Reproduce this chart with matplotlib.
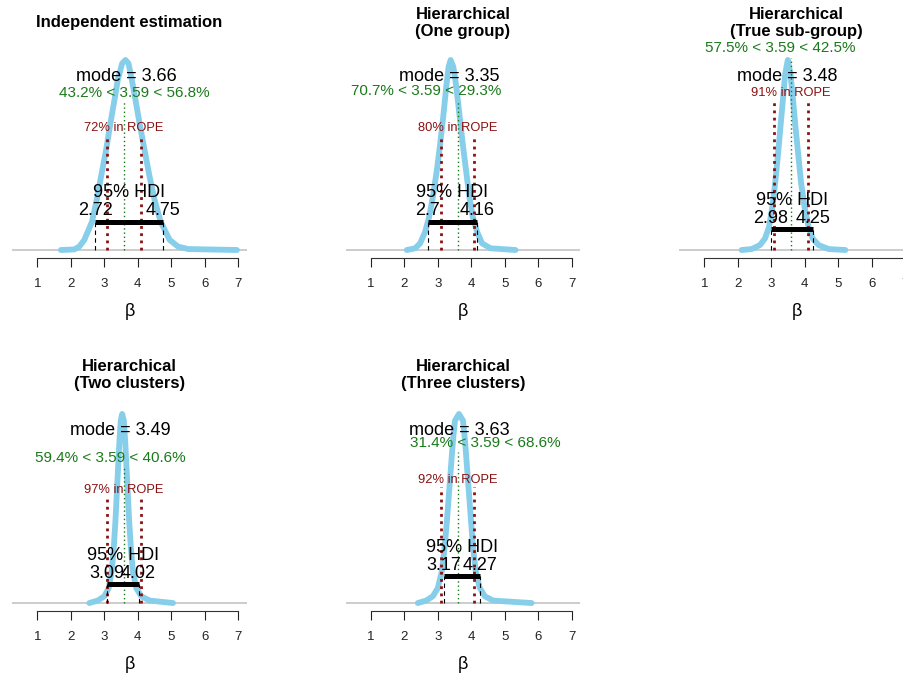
import matplotlib
matplotlib.use("Agg")
import matplotlib.pyplot as plt

plt.rcParams['font.family'] = ['Liberation Sans', 'DejaVu Sans']

# ---- data ----
titles = ["Independent estimation",
          "Hierarchical\n(One group)",
          "Hierarchical\n(True sub-group)",
          "Hierarchical\n(Two clusters)",
          "Hierarchical\n(Three clusters)"]
modes = [3.66, 3.35, 3.48, 3.49, 3.63]
comp_val = 3.59
pct_below = [43.2, 70.7, 57.5, 59.4, 31.4]
pct_above = [56.8, 29.3, 42.5, 40.6, 68.6]
pct_in_rope = [72, 80, 91, 97, 92]
rope = [3.09, 4.09]
hdi_low = [2.72, 2.7, 2.98, 3.09, 3.17]
hdi_high = [4.75, 4.16, 4.25, 4.02, 4.27]

# posterior density curves (beta, density scaled to peak = 1)
beta_indep = [1.70, 2.10, 2.25, 2.40, 2.63, 2.77, 2.90, 3.05, 3.18, 3.30, 3.40, 3.53,
              3.63, 3.72, 3.82, 3.93, 4.05, 4.20, 4.35, 4.50, 4.68, 4.95, 5.20, 5.50, 6.96]
dens_indep = [0, .003, .018, .053, .149, .263, .386, .526, .667, .789, .895, .982,
              1.0, .982, .895, .789, .667, .526, .386, .263, .149, .053, .018, .005, 0]
beta_one = [2.07, 2.32, 2.47, 2.62, 2.74, 2.85, 2.97, 3.07, 3.17, 3.25, 3.32,
            3.38, 3.46, 3.55, 3.64, 3.74, 3.84, 3.94, 4.04, 4.17, 4.32, 4.57, 5.32]
dens_one = [0, .009, .035, .096, .175, .28, .421, .561, .719, .86, .965,
            1.0, .965, .86, .719, .561, .421, .28, .175, .096, .035, .009, 0]
beta_true = [2.11, 2.41, 2.66, 2.81, 2.93, 3.03, 3.11, 3.19, 3.27, 3.35, 3.41,
             3.49, 3.57, 3.64, 3.72, 3.81, 3.89, 3.99, 4.11, 4.23, 4.41, 4.71, 5.21]
dens_true = [0, .005, .026, .061, .122, .227, .349, .489, .646, .803, .925,
             1.0, .925, .803, .646, .489, .349, .227, .122, .061, .026, .005, 0]
beta_two = [2.55, 2.80, 3.00, 3.13, 3.22, 3.28, 3.33, 3.37, 3.41, 3.45, 3.49,
            3.53, 3.58, 3.62, 3.66, 3.70, 3.74, 3.79, 3.85, 3.95, 4.10, 4.35, 5.05]
dens_two = [0, .013, .036, .08, .169, .293, .434, .576, .718, .859, .965,
            1.0, .965, .859, .718, .576, .434, .293, .169, .08, .036, .013, 0]
beta_three = [2.40, 2.65, 2.85, 3.00, 3.12, 3.20, 3.27, 3.33, 3.39, 3.45, 3.51,
              3.63, 3.75, 3.81, 3.87, 3.93, 3.99, 4.05, 4.13, 4.25, 4.40, 4.65, 5.80]
dens_three = [0, .013, .036, .08, .169, .293, .434, .576, .718, .859, .965,
              1.0, .965, .859, .718, .576, .434, .293, .169, .08, .036, .013, 0]

curves_x = [beta_indep, beta_one, beta_true, beta_two, beta_three]
curves_y = [dens_indep, dens_one, dens_true, dens_two, dens_three]

# ---- layout (pixels) ----
W, H = 904, 677
col_left = [12, 345.5, 679]
row_top = [52.4, 406.4]
row_h = [205.2, 204.2]
ax_w = 235
title_y = [23, 375]
cells = [(0, 0), (0, 1), (0, 2), (1, 0), (1, 1)]

mode_ht = 0.89
cv_ht = [0.805, 0.816, 1.04, 0.746, 0.825]
rope_ht = [0.626, 0.626, 0.81, 0.58, 0.635]
hdi_ht = [0.149, 0.149, 0.108, 0.10, 0.143]

sky = '#87ceeb'
cv_col = '#1a7a1a'
rope_col = '#8b1010'

fig = plt.figure(figsize=(W / 100, H / 100), dpi=100)
to_shift = []

for i, (r, c) in enumerate(cells):
    ax = fig.add_axes([col_left[c] / W, 1 - (row_top[r] + row_h[r]) / H,
                       ax_w / W, row_h[r] / H])
    ax.set_xlim(0.24, 7.26)
    ax.set_ylim(-0.04, 1.04)
    ax.patch.set_visible(False)

    ax.axhline(0, color='#bebebe', lw=1.1, zorder=1)
    ax.plot(curves_x[i], curves_y[i], color=sky, lw=4.2,
            solid_joinstyle='round', solid_capstyle='round', zorder=2)

    # comparison value
    ax.plot([comp_val, comp_val], [0, 0.97 * cv_ht[i]], color=cv_col, lw=1,
            ls=(0, (1, 2)), zorder=3)
    t = ax.text(comp_val, cv_ht[i],
                f"{pct_below[i]}% < {comp_val} < {pct_above[i]}%",
                color=cv_col, fontsize=11, ha='left', va='baseline', zorder=5)
    to_shift.append((ax, t, pct_below[i] / 100))

    # ROPE
    for rv in rope:
        ax.plot([rv, rv], [0, 0.97 * rope_ht[i]], color=rope_col, lw=2.0,
                ls=(0, (1.0, 1.6)), zorder=3)
    ax.text(sum(rope) / 2, rope_ht[i], f"{pct_in_rope[i]}% in ROPE",
            color=rope_col, fontsize=9.3, ha='center', va='baseline', zorder=5)

    # mode
    ax.text(modes[i], mode_ht, f"mode = {modes[i]}", fontsize=13,
            ha='center', va='baseline', zorder=5)

    # HDI
    lo, hi, bh = hdi_low[i], hdi_high[i], hdi_ht[i]
    ax.plot([lo, hi], [bh, bh], color='black', lw=3.6,
            solid_capstyle='butt', zorder=4)
    for v in (lo, hi):
        ax.plot([v, v], [0, bh], color='black', lw=0.8, ls=(0, (4, 3)), zorder=3)
        ax.annotate(f"{v:g}", xy=(v, bh), xytext=(0, 4.5),
                    textcoords='offset points', ha='center', va='baseline',
                    fontsize=13, zorder=5)
    ax.annotate("95% HDI", xy=((lo + hi) / 2, bh), xytext=(0, 17.6),
                textcoords='offset points', ha='center', va='baseline',
                fontsize=13, zorder=5)

    # x axis only
    for s in ['left', 'right', 'top']:
        ax.spines[s].set_visible(False)
    ax.spines['bottom'].set_bounds(1, 7)
    ax.spines['bottom'].set_color('#333333')
    ax.spines['bottom'].set_linewidth(0.8)
    ax.set_xticks(range(1, 8))
    ax.set_yticks([])
    ax.tick_params(axis='x', length=6.5, width=0.8, pad=8, labelsize=9.5,
                   colors='#222222')
    ax.annotate('β', xy=(0.5, 0), xycoords='axes fraction', xytext=(0, -38.5),
                textcoords='offset points', ha='center', va='center', fontsize=13)

    fig.text((col_left[c] + ax_w / 2) / W, 1 - title_y[r] / H, titles[i],
             ha='center', va='center', fontsize=12, fontweight='bold')

# place the comparison text so that the split point sits on comp_val
fig.canvas.draw()
for ax, t, frac in to_shift:
    bb = t.get_window_extent()
    inv = ax.transData.inverted()
    x0 = inv.transform((bb.x0, 0))[0]
    x1 = inv.transform((bb.x1, 0))[0]
    t.set_x(comp_val - frac * (x1 - x0))

fig.savefig('out.png', dpi=100)
